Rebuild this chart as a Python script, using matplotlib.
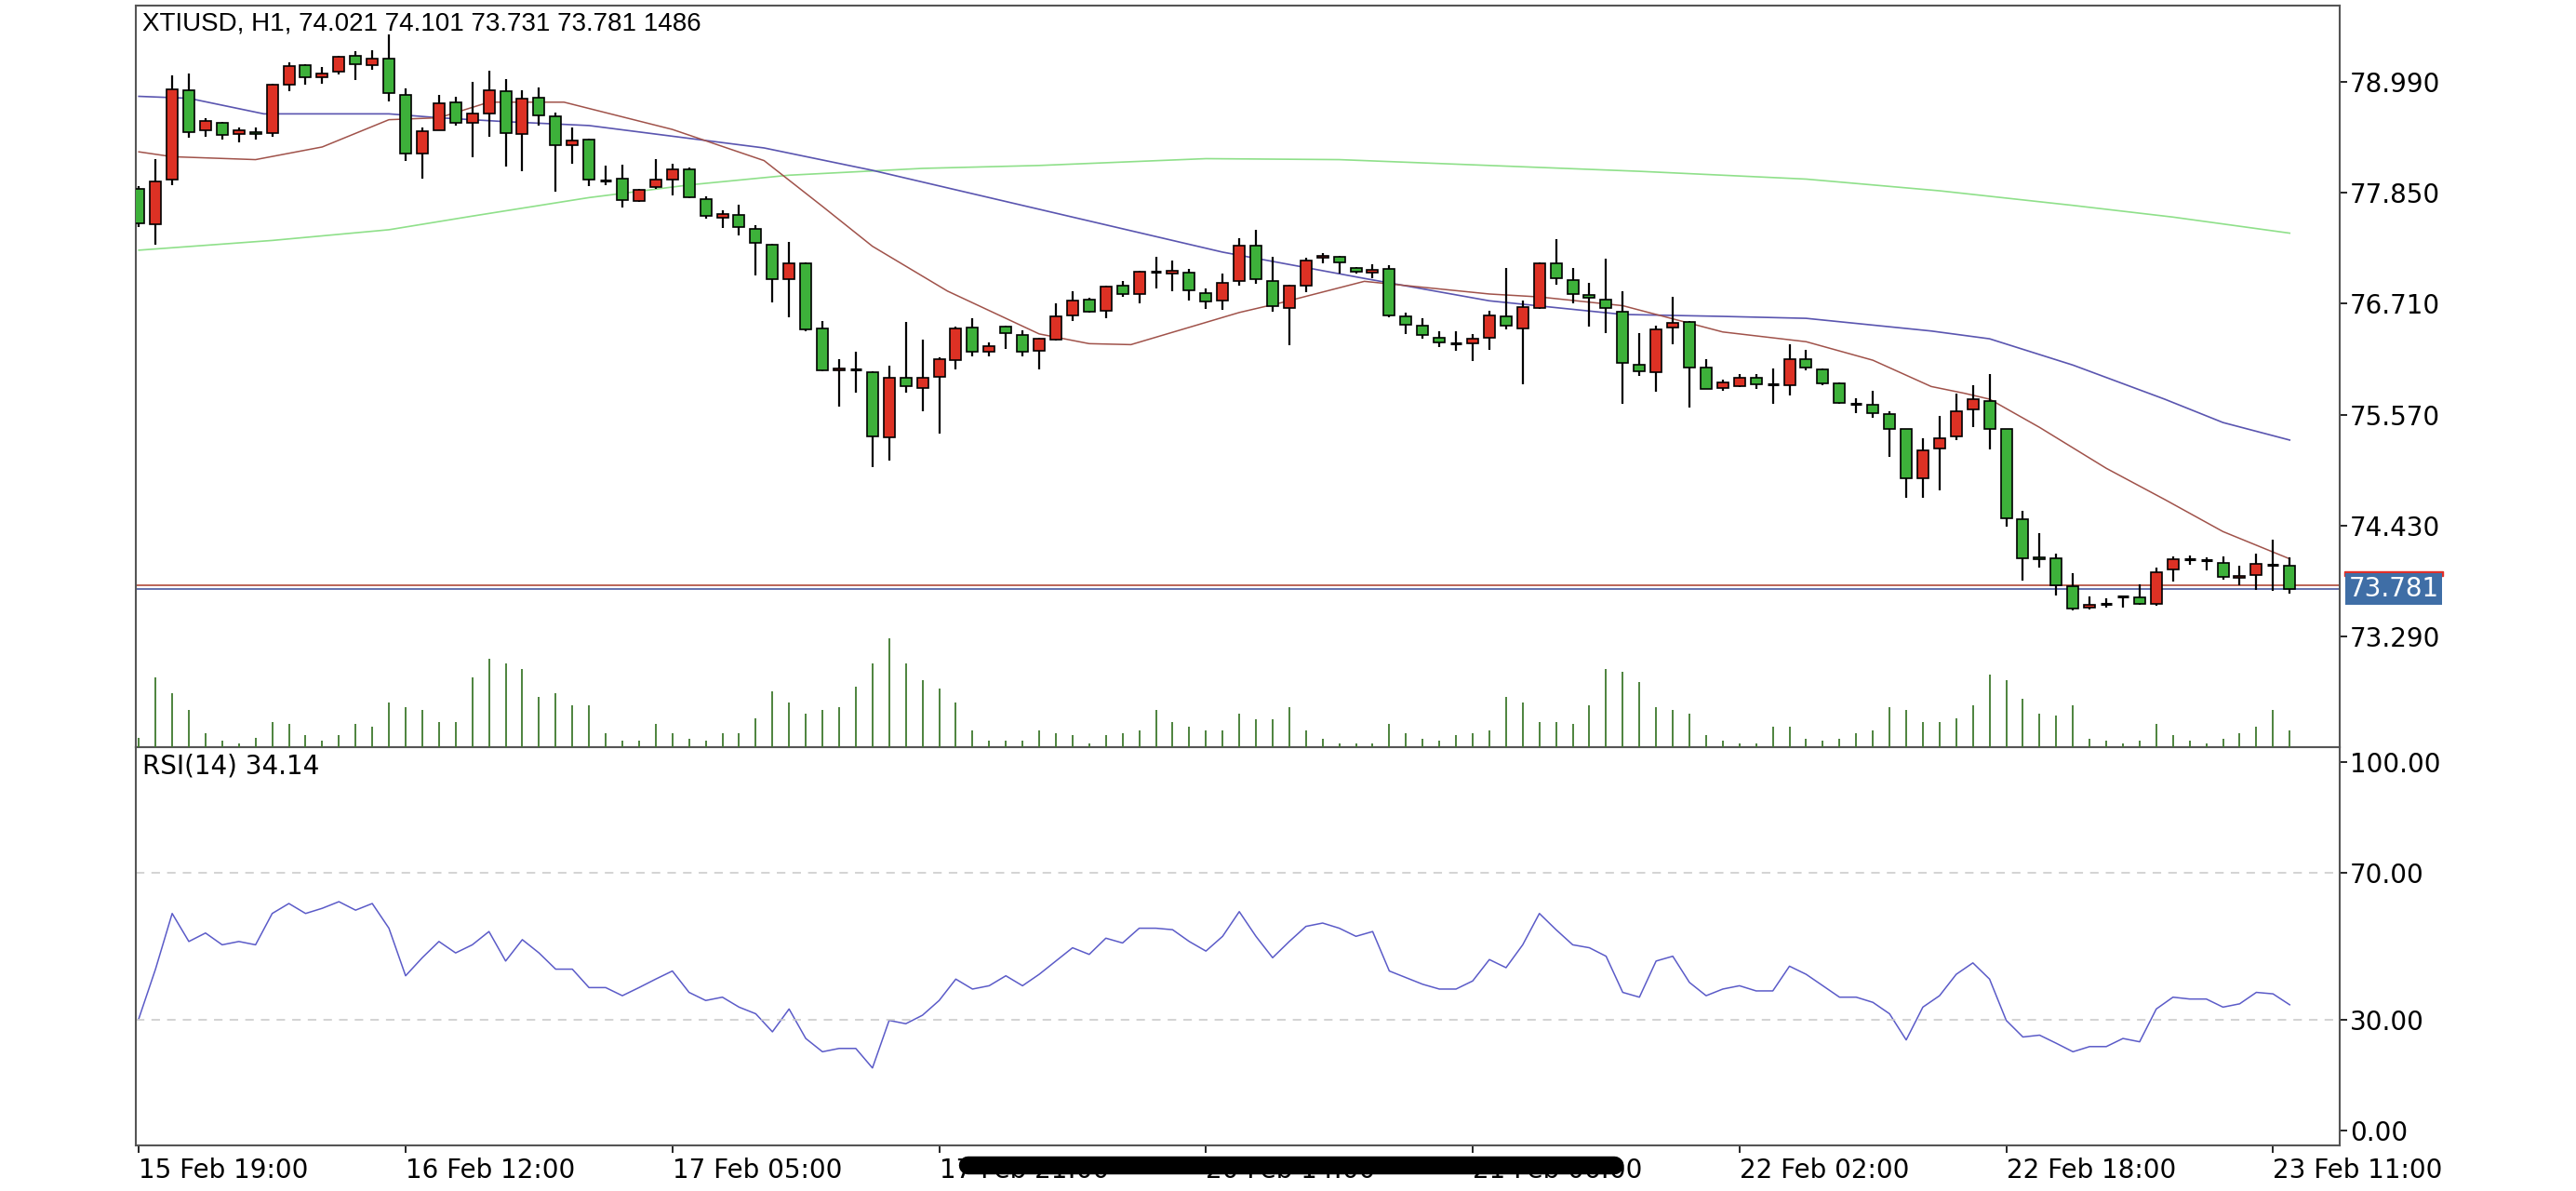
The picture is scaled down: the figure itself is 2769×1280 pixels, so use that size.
import matplotlib
matplotlib.use("Agg")
import matplotlib.pyplot as plt
import numpy as np
from matplotlib.transforms import blended_transform_factory
from matplotlib.lines import Line2D
from matplotlib.patches import Rectangle

opens = [77.894,77.524,77.988,78.906,78.487,78.57,78.457,78.477,78.467,78.955,79.158,79.034,79.089,79.252,79.163,79.227,78.857,78.25,78.496,78.778,
 78.57,78.664,78.891,78.452,78.827,78.635,78.343,78.393,77.978,77.993,77.761,77.904,77.988,78.092,77.786,77.598,77.618,77.475,77.312,76.966,
 77.124,76.453,76.028,76.038,76.004,75.337,75.945,75.846,75.959,76.132,76.463,76.216,76.478,76.394,76.231,76.344,76.586,76.749,76.64,76.892,
 76.808,77.035,77.016,77.025,76.823,76.744,76.942,77.302,76.947,76.67,76.897,77.178,77.188,77.08,77.025,77.065,76.581,76.483,76.364,76.305,
 76.305,76.359,76.576,76.458,76.67,77.129,76.956,76.798,76.749,76.631,76.087,76.009,76.463,76.522,76.058,75.846,75.866,75.954,75.88,75.875,
 76.137,76.038,75.895,75.683,75.668,75.579,75.421,74.918,75.224,75.347,75.629,75.713,75.426,74.493,74.104,74.094,73.812,73.585,73.625,73.7,
 73.69,73.63,73.98,74.089,74.074,74.045,73.896,73.926,74.03,74.021]
closes = [77.534,77.968,78.916,78.477,78.585,78.447,78.487,78.457,78.955,79.153,79.039,79.079,79.242,79.168,79.232,78.871,78.25,78.482,78.768,78.57,
 78.664,78.901,78.462,78.817,78.644,78.343,78.383,77.988,77.978,77.776,77.879,77.988,78.087,77.80,77.608,77.627,77.494,77.331,76.961,77.124,
 76.443,76.028,76.048,76.038,75.347,75.954,75.866,75.945,76.137,76.453,76.221,76.275,76.404,76.221,76.349,76.576,76.739,76.631,76.882,76.808,
 77.035,77.035,77.045,76.848,76.734,76.922,77.302,76.966,76.69,76.892,77.154,77.198,77.134,77.035,77.055,76.586,76.492,76.389,76.315,76.305,
 76.349,76.586,76.488,76.675,77.129,76.971,76.808,76.769,76.665,76.102,76.018,76.443,76.512,76.058,75.836,75.905,75.945,75.885,75.88,76.137,
 76.053,75.895,75.693,75.683,75.589,75.421,74.918,75.204,75.327,75.609,75.732,75.426,74.503,74.094,74.084,73.822,73.58,73.615,73.625,73.7,
 73.63,73.955,74.084,74.089,74.074,73.906,73.916,74.04,74.03,73.781]
highs = [77.92,78.20,79.054,79.074,78.62,78.58,78.52,78.52,78.965,79.187,79.173,79.138,79.252,79.301,79.316,79.474,78.926,78.52,78.857,78.832,
 78.99,79.103,79.015,78.901,78.931,78.669,78.52,78.408,78.126,78.141,77.889,78.20,78.15,78.111,77.815,77.672,77.731,77.519,77.322,77.346,
 77.134,76.532,76.142,76.216,76.014,76.078,76.522,76.344,76.157,76.473,76.557,76.31,76.488,76.433,76.359,76.71,76.838,76.774,76.892,76.942,
 77.045,77.188,77.154,77.065,76.867,77.016,77.381,77.47,77.188,76.907,77.183,77.233,77.203,77.09,77.114,77.104,76.616,76.562,76.423,76.423,
 76.399,76.64,77.075,76.744,77.139,77.371,77.075,76.927,77.174,76.843,76.413,76.483,76.779,76.532,76.137,75.93,75.989,75.989,76.043,76.29,
 76.236,76.048,75.9,75.742,75.816,75.609,75.421,75.327,75.555,75.791,75.87,75.989,75.426,74.587,74.35,74.143,73.946,73.7,73.684,73.709,
 73.832,74.005,74.113,74.128,74.104,74.118,74.015,74.143,74.291,74.101]
lows = [77.50,77.32,77.93,78.417,78.42,78.398,78.368,78.398,78.427,78.891,78.955,78.965,79.064,79.01,79.113,78.783,78.176,77.993,78.487,78.536,
 78.215,78.427,78.116,78.067,78.536,77.865,78.15,77.914,77.929,77.697,77.751,77.889,77.825,77.79,77.583,77.485,77.41,77.001,76.719,76.571,
 76.423,76.014,75.658,75.801,75.031,75.10,75.792,75.609,75.377,76.038,76.171,76.166,76.246,76.171,76.038,76.334,76.537,76.621,76.561,76.784,
 76.71,76.867,76.843,76.739,76.655,76.645,76.892,76.917,76.631,76.285,76.833,77.124,77.016,77.016,76.976,76.571,76.399,76.349,76.265,76.226,
 76.117,76.236,76.443,75.88,76.66,76.907,76.71,76.473,76.409,75.683,75.969,75.806,76.295,75.643,75.831,75.816,75.856,75.831,75.683,75.767,
 76.028,75.87,75.683,75.584,75.535,75.14,74.72,74.72,74.79,75.313,75.446,75.214,74.424,73.867,74.005,73.709,73.56,73.57,73.585,73.585,
 73.62,73.61,73.857,74.03,73.97,73.872,73.817,73.768,73.758,73.731]
volumes = [20,145,112,77,30,13,7,20,53,48,25,13,25,48,42,93,83,77,53,53,
 145,185,175,163,105,112,88,88,30,13,13,48,30,18,13,30,30,60,117,93,
 70,77,83,127,175,227,175,140,123,93,35,13,13,13,35,30,25,7,25,30,
 35,77,53,42,35,35,70,58,58,83,35,18,7,7,7,48,30,18,13,25,
 30,35,105,93,53,53,48,88,163,157,135,83,77,70,25,13,7,7,42,42,
 18,13,18,30,35,83,77,53,53,60,88,152,140,100,70,65,88,18,13,7,
 13,48,25,13,7,18,30,42,77,35]
rsi = [30.4,43.8,58.9,51.3,53.6,50.4,51.3,50.4,58.9,61.6,58.9,60.3,62.1,59.8,61.6,54.9,42.0,46.9,51.3,48.2,
 50.4,54.0,46.0,51.8,48.2,43.8,43.8,38.8,38.8,36.6,38.8,41.1,43.3,37.5,35.3,36.2,33.5,31.7,26.8,33.0,
 25.0,21.4,22.3,22.3,17.0,29.9,29.0,31.3,35.3,41.1,38.4,39.3,42.0,39.3,42.4,46.0,49.6,47.8,52.2,50.9,
 54.9,54.9,54.5,51.3,48.7,52.7,59.4,52.7,46.9,51.3,55.4,56.3,54.9,52.7,54.0,43.3,41.5,39.7,38.4,38.4,
 40.6,46.4,44.2,50.4,58.9,54.5,50.4,49.6,47.3,37.5,36.2,46.0,47.3,40.2,36.6,38.4,39.3,37.9,37.9,44.6,
 42.4,39.3,36.2,36.2,34.8,31.7,24.6,33.5,36.6,42.4,45.5,41.1,29.9,25.4,25.9,23.7,21.4,22.8,22.8,25.0,
 24.1,33.0,36.2,35.7,35.7,33.5,34.4,37.5,37.1,34.14]

ma_fast_x = [0,2,7,11,15,18,21,25.5,32,37.5,41,44,48.5,54,57,59.5,66,68.5,73.5,81,84,89,95,100,104,107.5,109.5,111,114,118,121.5,125,129]
ma_fast_y = [78.27,78.22,78.19,78.32,78.60,78.62,78.78,78.78,78.50,78.18,77.71,77.30,76.84,76.40,76.30,76.29,76.62,76.72,76.94,76.81,76.78,76.69,76.42,76.32,76.13,75.86,75.79,75.73,75.44,75.02,74.70,74.37,74.09]
ma_mid_x = [0,3,7.5,15,18,22,27,37.5,44,54,65,73.5,81,89,95,100,107.5,111,116,121.5,125,129]
ma_mid_y = [78.84,78.82,78.66,78.66,78.62,78.58,78.54,78.31,78.08,77.68,77.24,76.97,76.74,76.60,76.58,76.56,76.43,76.35,76.08,75.73,75.49,75.31]
ma_slow_x = [0,8,15,20,27,33,39,47,54,64,72,81,90,100,108,116,122,129]
ma_slow_y = [77.26,77.36,77.47,77.61,77.80,77.93,78.03,78.10,78.13,78.20,78.19,78.13,78.07,77.99,77.87,77.72,77.60,77.435]

price_ticks = [78.990, 77.850, 76.710, 75.570, 74.430, 73.290]
rsi_ticks = [100, 70, 30, 0]
time_tick_idx = [0, 16, 32, 48, 64, 80, 96, 112, 128]
time_tick_labels = ["15 Feb 19:00", "16 Feb 12:00", "17 Feb 05:00", "17 Feb 21:00", "20 Feb 14:00",
                    "21 Feb 06:00", "22 Feb 02:00", "22 Feb 18:00", "23 Feb 11:00"]
title = "XTIUSD, H1, 74.021 74.101 73.731 73.781 1486"
last_price = 73.781
ask_price = 73.815
rsi_title = "RSI(14) 34.14"

W, H = 2769, 1280
fig = plt.figure(figsize=(W/100, H/100), dpi=100)
fig.patch.set_facecolor("white")
L, R = 146/W, 2515/W
ax = fig.add_axes([L, 1-803/H, R-L, (803-6)/H])
axr = fig.add_axes([L, 1-1231/H, R-L, (1231-803)/H])

UP = "#dd3124"; DN = "#3db13a"
n = len(opens)
x = np.arange(n)
o = np.array(opens); c = np.array(closes); hi = np.array(highs); lo = np.array(lows)

# volume
axv = ax.twinx()
axv.vlines(x, 0, volumes, color="#3f7a2e", lw=1.3)
axv.set_ylim(0, 1546)
axv.axis("off")

ax.plot(ma_slow_x, ma_slow_y, color="#8fe08a", lw=1.2, zorder=2)
ax.plot(ma_mid_x, ma_mid_y, color="#5a55b0", lw=1.2, zorder=2)
ax.plot(ma_fast_x, ma_fast_y, color="#a0524a", lw=1.1, zorder=2)

ax.vlines(x, lo, hi, color="black", lw=1.6, zorder=3)
for i in range(n):
    bot = min(o[i], c[i]); h = abs(c[i]-o[i])
    if h < 0.004:
        ax.hlines(o[i], i-0.33, i+0.33, color="black", lw=2.2, zorder=4)
    else:
        col = UP if c[i] > o[i] else DN
        ax.bar(i, h, bottom=bot, width=0.67, color=col, edgecolor="black", lw=1.2, zorder=4)

ax.axhline(ask_price, color="#b04a3a", lw=1.2, zorder=1)
ax.axhline(last_price, color="#4a5aa0", lw=1.2, zorder=1)

ax.set_xlim(-0.18, 132)
ax.set_ylim(72.156, 79.772)
ax.yaxis.tick_right()
ax.set_yticks(price_ticks)
ax.set_yticklabels([f"{t:.3f}" for t in price_ticks])
ax.set_xticks([])
ax.tick_params(axis="y", labelsize=20, length=6, width=1.2, pad=2)
for lab in ax.get_yticklabels():
    lab.set_fontfamily("DejaVu Sans")
ax.text(0.003, 0.992, title, transform=ax.transAxes, ha="left", va="top", fontsize=20,
        family="Liberation Sans")

tr = blended_transform_factory(ax.transAxes, ax.transData)
ax.text(1.004, last_price, "73.781", transform=tr, ha="left", va="center", fontsize=20,
        color="white", family="DejaVu Sans",
        bbox=dict(boxstyle="square,pad=0.12", fc="#3f6ea6", ec="none"), zorder=10, clip_on=False)
ax.add_patch(Rectangle((1.002, last_price+0.13), 0.045, 0.05, transform=tr, color="#e0302a",
                       clip_on=False, zorder=9))

for a in (ax, axr):
    for s in a.spines.values():
        s.set_color("#555555"); s.set_linewidth(1.5)

axr.plot(x, rsi, color="#5b5bc8", lw=1.1)
for lvl in (70, 30):
    axr.axhline(lvl, color="#c8c8c8", lw=1.1, ls=(0, (6, 5)))
axr.set_xlim(-0.18, 132)
axr.set_ylim(-4, 104)
axr.yaxis.tick_right()
axr.set_yticks(rsi_ticks)
axr.set_yticklabels([f"{t:.2f}" for t in rsi_ticks])
axr.tick_params(axis="y", labelsize=20, length=6, width=1.2, pad=2)
axr.set_xticks(time_tick_idx)
axr.set_xticklabels(time_tick_labels, ha="left")
axr.tick_params(axis="x", labelsize=20, length=6, width=1.2, pad=3)
axr.text(0.003, 0.985, rsi_title, transform=axr.transAxes, ha="left", va="top", fontsize=20,
         family="DejaVu Sans")

fig.add_artist(Line2D([1040/W, 1735/W], [1-1252/H, 1-1252/H], color="black", lw=14,
                      solid_capstyle="round"))

fig.savefig("out.png", dpi=100, facecolor="white")
